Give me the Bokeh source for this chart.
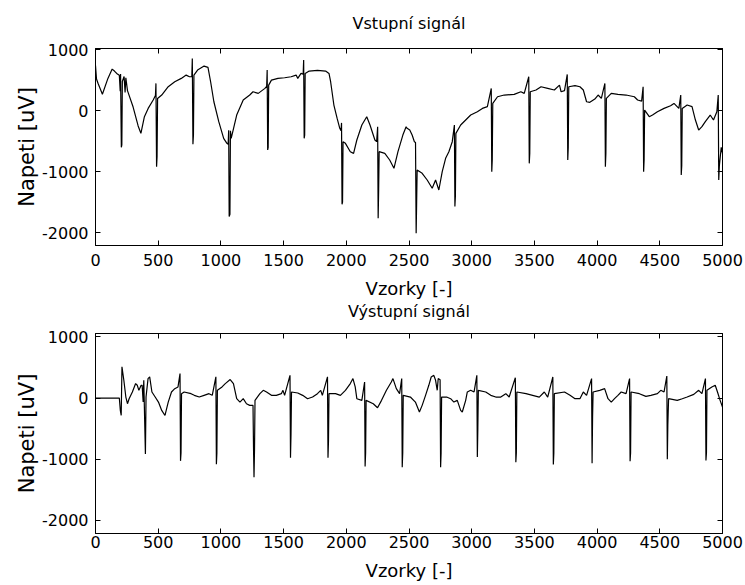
from bokeh.plotting import figure
from bokeh.layouts import column
from bokeh.models import Range1d, LinearAxis, FixedTicker, Title
from bokeh.embed import file_html
from bokeh.resources import INLINE

# ---- data (sample index, voltage in uV) ----
top_x = [0, 8, 20, 55, 99, 133, 151, 169, 190, 197, 200, 206, 210, 214, 228, 236, 242, 255,
         300, 340, 362, 390, 420, 460, 478, 482, 487, 491, 495, 528, 580, 632, 684, 723, 749,
         768, 772, 777, 781, 785, 814, 866, 897, 918, 944, 983, 1022, 1048, 1058, 1062, 1066,
         1072, 1076, 1082, 1126, 1178, 1230, 1256, 1298, 1351, 1365, 1369, 1373, 1377, 1381,
         1403, 1455, 1508, 1560, 1600, 1613, 1639, 1656, 1660, 1664, 1668, 1672, 1704, 1770,
         1835, 1862, 1875, 1901, 1927, 1948, 1958, 1962, 1966, 1970, 1974, 1993, 2032, 2058,
         2084, 2124, 2163, 2189, 2228, 2242, 2250, 2254, 2258, 2262, 2307, 2346, 2380, 2412,
         2451, 2477, 2485, 2506, 2525, 2543, 2552, 2557, 2561, 2565, 2605, 2645, 2685, 2712,
         2738, 2765, 2792, 2818, 2845, 2862, 2866, 2870, 2874, 2912, 2952, 2992, 3045, 3085,
         3125, 3156, 3160, 3164, 3168, 3206, 3259, 3339, 3392, 3419, 3455, 3459, 3463, 3467,
         3513, 3553, 3606, 3659, 3700, 3713, 3740, 3762, 3766, 3770, 3774, 3824, 3863, 3890,
         3916, 3942, 3982, 4008, 4034, 4062, 4066, 4070, 4074, 4113, 4166, 4231, 4297, 4323,
         4355, 4367, 4371, 4375, 4379, 4416, 4442, 4481, 4534, 4586, 4613, 4652, 4667, 4671,
         4675, 4679, 4718, 4757, 4784, 4810, 4836, 4863, 4902, 4928, 4955, 4966, 4970, 4975,
         4990, 5000]
top_y = [740, 520, 450, 270, 530, 682, 650, 611, 580, 320, 600, -600, -560, 480, 560, 300, 540, 330,
         60, -250, -370, -98, 38, 175, 250, 448, -917, -750, 200, 257, 393, 475, 530, 584, 557,
         560, 857, -551, -400, 584, 666, 732, 710, 475, 147, -180, -453, -535, -550, -320, -1736,
         -1700, -330, -453, -71, 175, 257, 311, 284, 366, 400, 666, -644, -600, 420,
         502, 530, 540, 557, 584, 530, 611, 600, 830, -453, -400, 611, 650, 661,
         650, 611, 475, 93, -126, -289, -330, -200, -1534, -1500, -508, -535, -672, -699,
         -480, -235, -98, -235, -480, -508, -262, -1764, -1300, -672, -699, -808, -945, -672,
         -399, -262, -289, -317, -399, -508, -520, -2009, -1500, -972, -1026, -1136, -1272, -1136,
         -1300, -999, -781, -672, -508, -235, -1572, -1400, -371, -235, -153, -71, -16, 38,
         66, 366, -999, -800, 120, 229, 257, 268, 311, 284, 557, -863, -700, 311,
         339, 393, 366, 339, 420, 311, 330, 595, -808, -600, 393, 410, 393, 339,
         147, 137, 191, 257, 202, 448, -917, -700, 202, 284, 268, 257, 229, 175,
         158, 393, -999, -800, 11, -98, -71, -16, 38, 82, 120, 38, 257, -1054,
         -900, 38, 93, 66, -153, -317, -262, -180, -71, -153, -16, 257, -1136, -900,
         -600, -700]

bot_x = [0, 190, 198, 205, 211, 226, 242, 255, 268, 294, 320, 333, 346, 364, 372, 380, 385, 398,
         403, 419, 432, 450, 476, 502, 528, 554, 580, 606, 632, 658, 674, 678, 682, 686, 707,
         762, 788, 827, 866, 905, 931, 960, 964, 968, 972, 1009, 1035, 1074, 1100, 1126, 1152,
         1178, 1204, 1230, 1256, 1260, 1264, 1268, 1272, 1311, 1338, 1364, 1403, 1442, 1482,
         1495, 1508, 1551, 1555, 1559, 1563, 1613, 1652, 1691, 1731, 1770, 1796, 1809, 1850,
         1854, 1858, 1862, 1914, 1953, 1993, 2032, 2053, 2071, 2084, 2124, 2146, 2150, 2154,
         2158, 2215, 2249, 2281, 2320, 2359, 2372, 2399, 2425, 2442, 2446, 2450, 2454, 2511,
         2551, 2583, 2605, 2632, 2658, 2677, 2698, 2712, 2725, 2733, 2748, 2752, 2756, 2760,
         2800, 2832, 2858, 2885, 2912, 2925, 2952, 2965, 2992, 3019, 3041, 3045, 3049, 3053,
         3112, 3152, 3192, 3232, 3272, 3299, 3348, 3352, 3356, 3360, 3433, 3486, 3539, 3579,
         3606, 3647, 3651, 3655, 3659, 3740, 3784, 3824, 3863, 3890, 3916, 3956, 3960, 3964,
         3968, 4021, 4060, 4087, 4113, 4139, 4166, 4192, 4231, 4259, 4263, 4267, 4271, 4337,
         4389, 4429, 4481, 4508, 4534, 4556, 4560, 4564, 4570, 4639, 4679, 4718, 4771, 4810,
         4836, 4864, 4868, 4872, 4876, 4915, 4942, 4960, 4981, 5000]
bot_y = [0, 0, -203, -285, 511, 291, 16, -93, -11, 99, 236, 209, 126, 209, 209, -66, 291, -917,
         16, 318, 346, 99, 16, -66, -203, -285, -66, 99, 153, 181, 400, -1027, -900, 71, 99,
         71, 44, 16, 44, 71, 44, 346, -1082, -900, 126, 181, 236, 302, 236, -11, -66,
         -11, -93, -120, -120, -800, -1294, -850, -38, 71, 126, 99, 44, 44, 71,
         126, 44, 371, -977, -600, 99, 82, 44, -11, 16, 71, 126, 44, 346,
         -977, -700, 71, 71, 44, 126, 236, 318, 181, -11, -38, 262, -1119, -900,
         -38, -93, -158, -38, 126, 262, 318, 153, 71, 318, -1130, -900, 44, 16,
         -66, -229, -120, 44, 208, 344, 371, 290, 126, 318, 300, -1130, -900, 16,
         16, -11, -66, -38, -202, -229, -38, 99, 126, 99, 371, -966, -500, 126,
         99, 44, 16, 16, 71, 16, 333, -1048, -900, 99, 71, 44, 16, 99,
         16, 344, -1087, -900, 71, 99, 44, -11, -11, 99, 44, 318, -1065, -300,
         99, 126, 153, -11, -66, -11, 44, 99, 71, 318, -1032, -900, 99, 71,
         27, 44, 71, 126, 99, 360, -999, -448, -11, -38, -11, 16, 60, 126,
         71, 318, -1021, -900, 126, 181, 208, 99, -38, -147]

x_ticks = [0, 500, 1000, 1500, 2000, 2500, 3000, 3500, 4000, 4500, 5000]
x_tick_labels = ["0", "500", "1000", "1500", "2000", "2500", "3000", "3500", "4000", "4500", "5000"]
y_ticks = [-2000, -1000, 0, 1000]
y_tick_labels = ["-2000", "-1000", "0", "1000"]

titles = ["Vstupní signál", "Výstupní signál"]
x_label = "Vzorky [-]"
y_label = "Napeti [uV]"

FONT = "DejaVu Sans"


def style_axis(ax, ticks, labels, show):
    ax.ticker = FixedTicker(ticks=ticks)
    ax.major_tick_in = 5
    ax.major_tick_out = 0
    ax.minor_tick_in = 0
    ax.minor_tick_out = 0
    ax.major_tick_line_color = "black"
    ax.axis_line_color = "black"
    if show:
        ax.major_label_overrides = {t: l for t, l in zip(ticks, labels)}
        ax.major_label_text_font = FONT
        ax.major_label_text_font_size = "16px"
        ax.major_label_text_color = "black"
        ax.axis_label_text_font = FONT
        ax.axis_label_text_font_style = "normal"
        ax.axis_label_text_color = "black"
    else:
        ax.major_label_text_font_size = "0px"
        ax.major_label_text_color = None
        ax.major_label_text_alpha = 0
        ax.major_label_standoff = 0


def make_title(text, standoff):
    return Title(text=text, align="center", vertical_align="top", text_font=FONT,
                 text_font_size="16px", text_font_style="normal", text_color="black",
                 standoff=standoff)


def make_panel(xs, ys, y_lo, y_hi, frame_h, b_top, b_bottom, tick_standoff, label_standoff):
    p = figure(frame_width=627, frame_height=frame_h,
               x_range=Range1d(0, 5000), y_range=Range1d(y_lo, y_hi),
               output_backend="svg", toolbar_location=None, title=None,
               min_border_left=95, min_border_right=22,
               min_border_top=b_top, min_border_bottom=b_bottom,
               background_fill_color="white", border_fill_color="white")
    p.xgrid.visible = False
    p.ygrid.visible = False
    p.outline_line_color = "black"
    p.outline_line_alpha = 1.0

    style_axis(p.xaxis[0], x_ticks, x_tick_labels, True)
    p.xaxis[0].axis_label = x_label
    p.xaxis[0].axis_label_text_font_size = "18px"
    p.xaxis[0].major_label_standoff = tick_standoff
    p.xaxis[0].axis_label_standoff = label_standoff

    style_axis(p.yaxis[0], y_ticks, y_tick_labels, True)
    p.yaxis[0].axis_label = y_label
    p.yaxis[0].axis_label_text_font_size = "21px"
    p.yaxis[0].major_label_standoff = 7
    p.yaxis[0].axis_label_standoff = 0

    # MATLAB-like box: ticks also on the top and right edges (no labels)
    top_ax = LinearAxis()
    style_axis(top_ax, x_ticks, x_tick_labels, False)
    p.add_layout(top_ax, "above")
    right_ax = LinearAxis()
    style_axis(right_ax, y_ticks, y_tick_labels, False)
    p.add_layout(right_ax, "right")

    p.line(xs, ys, line_color="black", line_width=1.2)
    return p


p1 = make_panel(top_x, top_y, -2210, 1020, 197, 48, 78, 8, 9)
p1.add_layout(make_title(titles[0], 27), "above")
# second subplot's title sits directly under the first subplot's x label
p1.add_layout(make_title(titles[1], 0), "below")

p2 = make_panel(bot_x, bot_y, -2215, 1055, 200, 10, 51, 2, 9)

layout = column(p1, p2, spacing=0)
open("out.html", "w").write(file_html(layout, INLINE))
